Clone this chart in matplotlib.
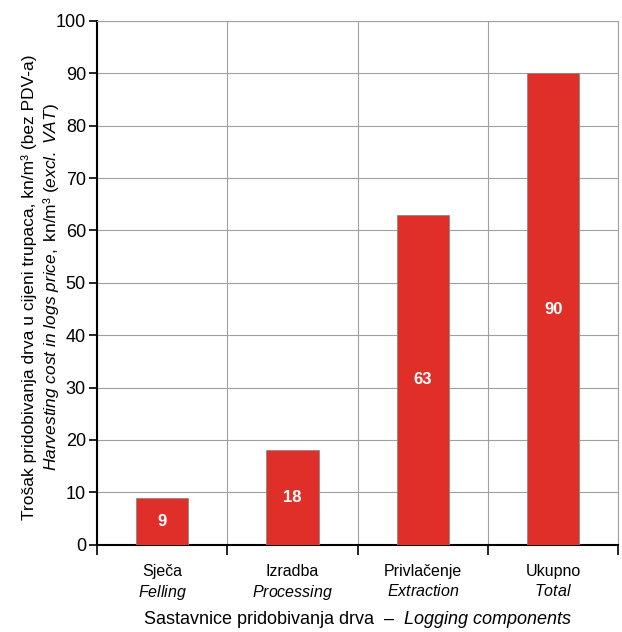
import matplotlib.pyplot as plt
import numpy as np
from matplotlib import font_manager

# Troškovi pridobivanja drva po sastavnicama
categories_hr = ['Sječa', 'Izradba', 'Privlačenje', 'Ukupno']
categories_en = ['Felling', 'Processing', 'Extraction', 'Total']
costs = [9, 18, 63, 90]
y_ticks = list(range(0, 101, 10))

names = {f.name for f in font_manager.fontManager.ttflist}
font = 'Liberation Sans Narrow' if 'Liberation Sans Narrow' in names else 'Liberation Sans'
plt.rcParams['font.family'] = [font, 'DejaVu Sans']
plt.rcParams['mathtext.fontset'] = 'custom'
plt.rcParams['mathtext.rm'] = font
plt.rcParams['mathtext.it'] = font + ':italic'

fig = plt.figure(figsize=(6.22, 6.32), dpi=100)
ax = fig.add_axes([0.156, 0.138, 0.838, 0.829])

x = np.arange(len(costs))
bars = ax.bar(x, costs, width=0.4, color='#e02f28', edgecolor='#8a8a8a', linewidth=0.6, zorder=3)
for xi, v in zip(x, costs):
    ax.text(xi, v / 2, str(v), ha='center', va='center', color='white',
            fontsize=12, fontweight='bold', zorder=4)

ax.set_xlim(-0.5, len(costs) - 0.5)
ax.set_ylim(0, 100)
ax.set_yticks(y_ticks)
ax.tick_params(axis='y', labelsize=13, length=6, width=1.2, pad=2)

ax.set_xticks(x)
ax.set_xticklabels(['%s\n$\\mathit{%s}$' % (h, e) for h, e in zip(categories_hr, categories_en)],
                   fontsize=11.5, linespacing=1.3)
ax.tick_params(axis='x', which='major', length=0, pad=14)
ax.set_xticks(np.arange(-0.5, len(costs)), minor=True)
ax.tick_params(axis='x', which='minor', length=7, width=1.2)

ax.grid(True, axis='y', color='#a0a0a0', linewidth=0.8, zorder=0)
ax.grid(True, axis='x', which='minor', color='#a0a0a0', linewidth=0.8, zorder=0)
for s in ['top', 'right']:
    ax.spines[s].set_color('#a0a0a0')
    ax.spines[s].set_linewidth(0.8)
for s in ['left', 'bottom']:
    ax.spines[s].set_linewidth(1.5)

ax.set_xlabel('Sastavnice pridobivanja drva  –  $\\mathit{Logging\\ components}$', fontsize=13, labelpad=5)

fig.text(0.046, 0.545, 'Trošak pridobivanja drva u cijeni trupaca, kn/m³ (bez PDV-a)',
         rotation=90, ha='center', va='center', fontsize=12.5)
fig.text(0.082, 0.545, '$\\mathit{Harvesting\\ cost\\ in\\ logs\\ price,}$ kn/m³ $\\mathit{(excl.\\ VAT)}$',
         rotation=90, ha='center', va='center', fontsize=12.5)

fig.savefig('out.png', dpi=100)
